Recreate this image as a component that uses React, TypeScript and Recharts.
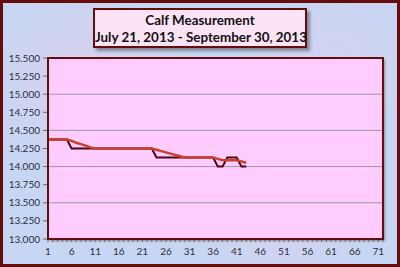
import { LineChart, Line, XAxis, YAxis, CartesianGrid } from 'recharts'

const DAYS = [
  1, 2, 3, 4, 5, 6, 7, 8, 9, 10, 11, 12, 13, 14, 15, 16, 17, 18, 19, 20, 21, 22, 23, 24,
  25, 26, 27, 28, 29, 30, 31, 32, 33, 34, 35, 36, 37, 38, 39, 40, 41, 42, 43, 44, 45, 46, 47, 48,
  49, 50, 51, 52, 53, 54, 55, 56, 57, 58, 59, 60, 61, 62, 63, 64, 65, 66, 67, 68, 69, 70, 71, 72
]

// daily calf reading (dark line)
const MEASURED = [
  14.375, 14.375, 14.375, 14.375, 14.375,
  14.25, 14.25, 14.25, 14.25, 14.25, 14.25, 14.25, 14.25, 14.25, 14.25, 14.25, 14.25, 14.25,
  14.25, 14.25, 14.25, 14.25, 14.25,
  14.125, 14.125, 14.125, 14.125, 14.125, 14.125, 14.125, 14.125, 14.125, 14.125, 14.125,
  14.125, 14.125,
  14.0, 14.0,
  14.125, 14.125, 14.125,
  14.0, 14.0
]

// smoothed reading (red line)
const AVERAGE = [
  14.375, 14.375, 14.375, 14.375, 14.375,
  14.355, 14.33, 14.31, 14.29, 14.265, 14.25,
  14.25, 14.25, 14.25, 14.25, 14.25, 14.25, 14.25, 14.25, 14.25, 14.25, 14.25, 14.25,
  14.232, 14.214, 14.196, 14.179, 14.161, 14.143, 14.125,
  14.125, 14.125, 14.125, 14.125, 14.125, 14.125,
  14.107, 14.089, 14.089, 14.089, 14.089, 14.071, 14.054
]

const Y_TICKS = [13, 13.25, 13.5, 13.75, 14, 14.25, 14.5, 14.75, 15, 15.25, 15.5]

const TITLE = 'Calf Measurement'
const SUBTITLE = 'July 21, 2013 - September 30, 2013'

const W = 400
const H = 267
const PLOT = { left: 48, top: 58, right: 383, bottom: 239 }
const MAROON = '#650c0c'
const FONT = 'Lato, "Noto Sans", sans-serif'

const data = DAYS.map((d, i) => ({
  day: d,
  measured: i < MEASURED.length ? MEASURED[i] : null,
  average: i < AVERAGE.length ? AVERAGE[i] : null
}))

function DayTick(props: any) {
  const { x, y, payload, index } = props
  if (index % 5 !== 0) return <g />
  return (
    <text x={x} y={y} dy="0.71em" textAnchor="middle" fontSize={10} fontFamily={FONT} fill="#2e2e3c">
      {payload.value}
    </text>
  )
}

export default function App() {
  return (
    <div style={{ position: 'absolute', left: 0, top: 0, width: W, height: H, overflow: 'hidden' }}>
      {/* frame + mottled background */}
      <div
        style={{
          position: 'absolute',
          inset: 0,
          boxSizing: 'border-box',
          border: `3px solid ${MAROON}`,
          background:
            'radial-gradient(circle at 20% 30%, rgba(236,204,236,0.45), transparent 30%),' +
            'radial-gradient(circle at 70% 80%, rgba(236,204,236,0.4), transparent 28%),' +
            'radial-gradient(circle at 85% 20%, rgba(230,208,240,0.35), transparent 25%),' +
            '#c6d6f3'
        }}
      />
      {/* plot area fill */}
      <div
        style={{
          position: 'absolute',
          left: PLOT.left,
          top: PLOT.top,
          width: PLOT.right - PLOT.left,
          height: PLOT.bottom - PLOT.top,
          background: '#ffccff',
          boxShadow: '2px 2px 2px rgba(60,60,60,0.45)'
        }}
      />
      <div style={{ position: 'absolute', left: 0, top: 0 }}>
        <LineChart
          width={W}
          height={H}
          data={data}
          margin={{ top: PLOT.top, right: W - PLOT.right, bottom: 8, left: 0 }}
        >
          <CartesianGrid vertical={false} stroke="#9a9a9a" strokeWidth={1} />
          <XAxis
            dataKey="day"
            interval={0}
            height={H - PLOT.bottom - 8}
            axisLine={false}
            tickLine={{ stroke: '#6a6a6a' }}
            tickSize={3}
            tickMargin={6}
            tick={<DayTick />}
          />
          <YAxis
            width={PLOT.left}
            domain={[13, 15.5]}
            ticks={Y_TICKS}
            tickFormatter={(v: number) => v.toFixed(3)}
            axisLine={false}
            tickLine={{ stroke: '#6a6a6a' }}
            tickSize={5}
            tickMargin={3}
            tick={{ fontSize: 10, fontFamily: FONT, fill: '#2e2e3c' }}
          />
          <Line
            dataKey="measured"
            stroke="#4a0808"
            strokeWidth={2}
            dot={false}
            type="linear"
            isAnimationActive={false}
          />
          <Line
            dataKey="average"
            stroke="#c9402d"
            strokeWidth={2.5}
            dot={false}
            type="linear"
            isAnimationActive={false}
          />
        </LineChart>
      </div>
      {/* plot border */}
      <div
        style={{
          position: 'absolute',
          left: PLOT.left - 1,
          top: PLOT.top - 1,
          width: PLOT.right - PLOT.left + 2,
          height: PLOT.bottom - PLOT.top + 2,
          boxSizing: 'border-box',
          border: `2px solid ${MAROON}`,
          pointerEvents: 'none'
        }}
      />
      {/* title box */}
      <div
        style={{
          position: 'absolute',
          left: 93,
          top: 8,
          width: 214,
          height: 40,
          boxSizing: 'border-box',
          border: `2px solid ${MAROON}`,
          background: '#fde3f6',
          boxShadow: '3px 3px 3px rgba(60,60,60,0.5)',
          fontFamily: FONT,
          fontWeight: 700,
          fontSize: 13.4,
          lineHeight: '17px',
          color: '#111',
          textAlign: 'center',
          paddingTop: 2,
          whiteSpace: 'nowrap'
        }}
      >
        <div>{TITLE}</div>
        <div>{SUBTITLE}</div>
      </div>
    </div>
  )
}
